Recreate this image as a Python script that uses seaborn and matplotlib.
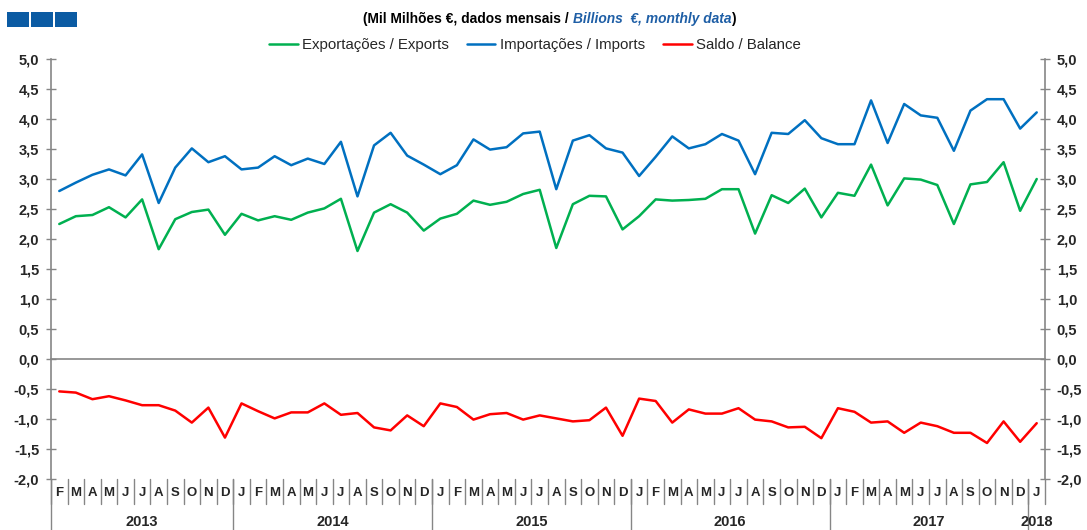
import pandas as pd
import matplotlib.pyplot as plt
import seaborn as sns
from matplotlib.patches import Rectangle
from matplotlib.lines import Line2D

# Monthly data, Feb 2013 - Jan 2018 (billions EUR)
exports = [2.25, 2.38, 2.40, 2.53, 2.36, 2.66, 1.83, 2.33, 2.45, 2.49, 2.07,
           2.42, 2.31, 2.38, 2.32, 2.44, 2.51, 2.67, 1.80, 2.44, 2.58, 2.44, 2.14,
           2.34, 2.42, 2.64, 2.57, 2.62, 2.75, 2.82, 1.85, 2.58, 2.72, 2.71, 2.16,
           2.38, 2.66, 2.64, 2.65, 2.67, 2.83, 2.83, 2.09, 2.73, 2.60, 2.84, 2.36,
           2.77, 2.72, 3.24, 2.56, 3.01, 2.99, 2.90, 2.25, 2.91, 2.95, 3.28, 2.47,
           3.00]
imports = [2.80, 2.94, 3.07, 3.16, 3.06, 3.41, 2.60, 3.19, 3.51, 3.28, 3.38,
           3.16, 3.19, 3.38, 3.23, 3.34, 3.25, 3.62, 2.71, 3.56, 3.77, 3.39, 3.24,
           3.08, 3.23, 3.66, 3.49, 3.53, 3.76, 3.79, 2.83, 3.64, 3.73, 3.51, 3.44,
           3.05, 3.37, 3.71, 3.51, 3.58, 3.75, 3.64, 3.08, 3.77, 3.75, 3.98, 3.68,
           3.58, 3.58, 4.31, 3.60, 4.25, 4.06, 4.02, 3.47, 4.14, 4.33, 4.33, 3.84,
           4.11]
balance = [-0.54, -0.56, -0.67, -0.62, -0.69, -0.77, -0.77, -0.86, -1.06, -0.81, -1.31,
           -0.74, -0.87, -0.99, -0.89, -0.89, -0.74, -0.93, -0.90, -1.14, -1.19, -0.94, -1.12,
           -0.74, -0.80, -1.01, -0.92, -0.90, -1.01, -0.94, -0.99, -1.04, -1.02, -0.81, -1.28,
           -0.66, -0.70, -1.06, -0.84, -0.91, -0.91, -0.82, -1.01, -1.04, -1.14, -1.13, -1.32,
           -0.82, -0.88, -1.06, -1.04, -1.23, -1.06, -1.12, -1.23, -1.23, -1.40, -1.04, -1.38,
           -1.07]

full_year = ["J", "F", "M", "A", "M", "J", "J", "A", "S", "O", "N", "D"]
month_labels = full_year[1:] + full_year * 4 + ["J"]
years = ["2013", "2014", "2015", "2016", "2017", "2018"]
months_in_year = [11, 12, 12, 12, 12, 1]

series_names = ["Exportações / Exports", "Importações / Imports", "Saldo / Balance"]
colors = ["#00b050", "#0070c0", "#ff0000"]
yticks = [5.0, 4.5, 4.0, 3.5, 3.0, 2.5, 2.0, 1.5, 1.0, 0.5, 0.0, -0.5, -1.0, -1.5, -2.0]

df = pd.DataFrame({"idx": range(len(exports)),
                   series_names[0]: exports,
                   series_names[1]: imports,
                   series_names[2]: balance})
long_df = df.melt(id_vars="idx", var_name="series", value_name="value")

sns.set_style("white")
plt.rcParams["font.family"] = ["Liberation Sans", "DejaVu Sans"]

W, H = 1087, 530
fig = plt.figure(figsize=(W / 100, H / 100), dpi=100)
ax = fig.add_axes([51 / W, 1 - 479 / H, (1045 - 51) / W, 420 / H])

sns.lineplot(data=long_df, x="idx", y="value", hue="series", hue_order=series_names,
             palette=colors, linewidth=1.8, ax=ax, legend=False)

gray = "#868686"
n = len(exports)
ax.set_xlim(-0.5, n - 0.5)
ax.set_ylim(-2.0, 5.0)
ax.set_xlabel("")
ax.set_ylabel("")

# y axis on both sides, comma decimals
ax.set_yticks(yticks)
ax.set_yticklabels([f"{v:.1f}".replace(".", ",") for v in yticks],
                   fontsize=10.5, fontweight="bold")
ax.tick_params(axis="y", which="both", direction="inout", length=7, width=1,
               color=gray, left=True, right=True, labelleft=True, labelright=True, pad=5)

# zero line carries the month ticks
ax.spines["bottom"].set_position(("data", 0))
ax.spines["top"].set_visible(False)
for s in ["bottom", "left", "right"]:
    ax.spines[s].set_color(gray)
    ax.spines[s].set_linewidth(1.2)
ax.set_xticks([i + 0.5 for i in range(-1, n)])
ax.set_xticklabels([])
ax.tick_params(axis="x", direction="out", length=4, width=1, color=gray)

# month letters and year labels under the plot
trans = ax.get_xaxis_transform()
for i, lab in enumerate(month_labels):
    ax.text(i, -0.033, lab, transform=trans, ha="center", va="center",
            fontsize=9.5, fontweight="bold")
for i in range(n + 1):
    ax.plot([i - 0.5, i - 0.5], [0, -0.06], transform=trans, color=gray,
            lw=1, clip_on=False)
start = 0
for yr, cnt in zip(years, months_in_year):
    ax.text(start + (cnt - 1) / 2, -0.103, yr, transform=trans, ha="center",
            va="center", fontsize=10.5, fontweight="bold")
    ax.plot([start - 0.5, start - 0.5], [0, -0.125], transform=trans, color=gray,
            lw=1, clip_on=False)
    start += cnt

# legend
handles = [Line2D([], [], color=c, lw=1.8) for c in colors]
fig.legend(handles, series_names, loc="center", bbox_to_anchor=(535 / W, 1 - 45 / H),
           ncol=3, frameon=False, fontsize=10.8, handlelength=1.9, handletextpad=0.3,
           columnspacing=1.2)

# title with bold-italic blue English part
fig.canvas.draw()
renderer = fig.canvas.get_renderer()
x0 = 363
parts = [("(Mil Milhões €, dados mensais / ", "black", "normal"),
         ("Billions  €, monthly data", "#1f5fa6", "italic"),
         (")", "black", "normal")]
for txt, col, sty in parts:
    t = fig.text(x0 / W, 1 - 19 / H, txt, color=col, style=sty, fontweight="bold",
                 fontsize=9.9, ha="left", va="center")
    x0 = t.get_window_extent(renderer).x1

# three blue squares top left
for xs in [7, 31, 55]:
    fig.patches.append(Rectangle((xs / W, 1 - 27 / H), 22 / W, 15 / H,
                                 transform=fig.transFigure, facecolor="#0b5ba3",
                                 edgecolor="none", linewidth=0))

fig.savefig("out.png", dpi=100)
